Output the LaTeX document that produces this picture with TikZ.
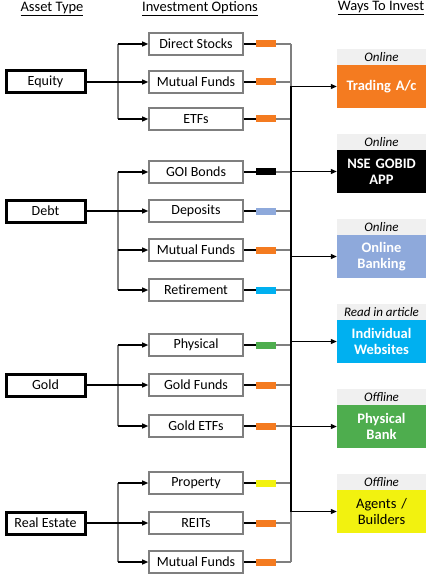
\documentclass[tikz,border=0pt]{standalone}
\usepackage{fontspec}
\setmainfont{Carlito}
\usetikzlibrary{arrows.meta, positioning}

\definecolor{brokerorange}{HTML}{F47B20}
\definecolor{bankblue}{HTML}{8EA9DB}
\definecolor{webcyan}{HTML}{00B0F0}
\definecolor{branchgreen}{HTML}{4EAD4E}
\definecolor{agentyellow}{HTML}{F2F20F}
\definecolor{tagband}{HTML}{F0F0F0}
\definecolor{wire}{HTML}{7F7F7F}

\tikzset{
  asset/.style={draw=black, line width=3pt, minimum width=79pt, minimum height=22pt, inner sep=0pt, font=\fontsize{14}{16}\selectfont},
  option/.style={draw=wire, line width=1.6pt, minimum width=94pt, minimum height=22pt, inner sep=0pt, font=\fontsize{14}{16}\selectfont},
  chip/.style={minimum width=20pt, minimum height=7pt, inner sep=0pt},
  way/.style={minimum width=89pt, minimum height=43pt, text width=86pt, align=center, inner sep=0pt, text=white, font=\bfseries\fontsize{14.5}{16}\selectfont},
  tag/.style={fill=tagband, minimum width=89pt, minimum height=16pt, inner sep=0pt, font=\itshape\fontsize{13}{15}\selectfont},
  heading/.style={font=\fontsize{14.5}{16}\selectfont},
  feed/.style={-{Triangle[length=6pt,width=5pt]}, line width=1.1pt},
  tie/.style={line width=1.1pt},
}

\begin{document}
\begin{tikzpicture}[x=1pt, y=-1pt]
\useasboundingbox (0,0) rectangle (429,577);

% --- headings ---
\node[heading] (hAsset) at (52,9) {\underline{Asset Type}};
\node[heading] (hOption) at (200,9) {\underline{Investment Options}};
\node[heading] (hWays) at (381,8) {\underline{Ways To Invest}};

% --- asset types ---
\node[asset] (equity) at (45.5,82) {Equity};
\node[asset] (debt) at (45.5,211) {Debt};
\node[asset] (gold) at (45.5,385) {Gold};
\node[asset] (realty) at (45.5,523) {Real Estate};

% --- investment options ---
\node[option] (stocks) at (196,44) {Direct Stocks};
\node[option] (eqmf) at (196,82) {Mutual Funds};
\node[option] (etfs) at (196,119) {ETFs};
\node[option] (bonds) at (196,172) {GOI Bonds};
\node[option] (deposits) at (196,211) {Deposits};
\node[option] (debtmf) at (196,250) {Mutual Funds};
\node[option] (retire) at (196,290) {Retirement};
\node[option] (physical) at (196,345) {Physical};
\node[option] (goldfunds) at (196,385) {Gold Funds};
\node[option] (goldetfs) at (196,426) {Gold ETFs};
\node[option] (property) at (196,483) {Property};
\node[option] (reits) at (196,523) {REITs};
\node[option] (remf) at (196,562) {Mutual Funds};

% --- colour chips ---
\foreach \opt/\col in {stocks/brokerorange, eqmf/brokerorange, etfs/brokerorange,
    bonds/black, deposits/bankblue, debtmf/brokerorange, retire/webcyan,
    physical/branchgreen, goldfunds/brokerorange, goldetfs/brokerorange,
    property/agentyellow, reits/brokerorange, remf/brokerorange}
  \node[chip, fill=\col] (\opt-chip) at (266,0 |- \opt) {};

% --- ways to invest ---
\node[way, fill=brokerorange] (trading) at (381.5,86.5) {Trading A/c};
\node[way, fill=black] (gobid) at (381.5,171.5) {NSE GOBID\\APP};
\node[way, fill=bankblue] (netbank) at (381.5,256.5) {Online\\Banking};
\node[way, fill=webcyan] (sites) at (381.5,341.5) {Individual\\Websites};
\node[way, fill=branchgreen] (bank) at (381.5,426.5) {Physical\\Bank};
\node[way, fill=agentyellow, text=black, font=\fontsize{14.5}{16}\selectfont] (agents) at (381.5,511.5) {Agents /\\Builders};
\node[tag, above=0pt of trading] (tTrading) {Online};
\node[tag, above=0pt of gobid] (tGobid) {Online};
\node[tag, above=0pt of netbank] (tNetbank) {Online};
\node[tag, above=0pt of sites] (tSites) {Read in article};
\node[tag, above=0pt of bank] (tBank) {Offline};
\node[tag, above=0pt of agents] (tAgents) {Offline};

% --- branching from asset types ---
\coordinate (split) at (118,0);
\coordinate (busTop) at (291,44);
\coordinate (busEnd) at (291,562);
\foreach \src/\first/\last in {equity/stocks/etfs, debt/bonds/retire, gold/physical/goldetfs, realty/property/remf}{
  \draw[wire, tie] (\first.west -| split) -- (\last.west -| split);
  \draw[tie] (\src.east) -- (\src.east -| split);
}
\foreach \opt in {stocks, eqmf, etfs, bonds, deposits, debtmf, retire, physical, goldfunds, goldetfs, property, reits, remf}{
  \draw[feed] (\opt.west -| split) -- (\opt.west);
  \draw[tie] (\opt.east) -- (\opt-chip.west);
  \draw[tie, wire] (\opt-chip.east) -- (\opt-chip.east -| busTop);
}

% --- collecting bus ---
\draw[tie, wire] (busTop) -- (trading.west -| busTop);
\draw[line width=1.4pt] (trading.west -| busTop) -- (agents.west -| busTop);
\draw[tie, wire] (agents.west -| busTop) -- (busEnd);
\foreach \way in {trading, gobid, netbank, sites, bank, agents}
  \draw[feed] (\way.west -| busTop) -- (\way.west);
\end{tikzpicture}
\end{document}
